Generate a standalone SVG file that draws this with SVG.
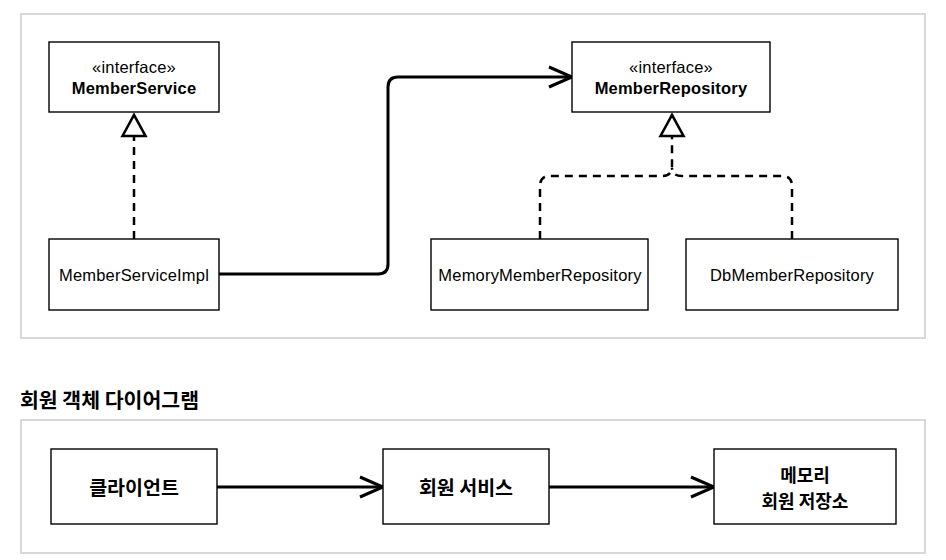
<svg xmlns="http://www.w3.org/2000/svg" width="946" height="560" viewBox="0 0 946 560">
<style>
.frame{fill:none;stroke:#d8d8d8;stroke-width:2}
.box{fill:#fff;stroke:#000;stroke-width:1.4}
.en{font-family:"Liberation Sans",Arial,sans-serif;font-size:16.5px;letter-spacing:0.2px;fill:#000;text-anchor:middle}
.b{font-weight:bold}
.ko{font-family:"Noto Sans CJK KR",sans-serif;font-weight:700;font-size:19.5px;fill:#000;text-anchor:middle}
.ko2{font-size:18px}
.solid{fill:none;stroke:#000;stroke-width:3}
.dash{fill:none;stroke:#000;stroke-width:2.5;stroke-dasharray:8 6}
</style>
<defs>
<marker id="open" markerUnits="userSpaceOnUse" viewBox="0 0 27 24" refX="25" refY="12" markerWidth="27" markerHeight="24" orient="auto">
<path d="M2,2 L25,12 L2,22" fill="none" stroke="#000" stroke-width="3" stroke-linejoin="miter"/>
</marker>
<marker id="tri" markerUnits="userSpaceOnUse" viewBox="-2 -14 26 28" refX="0" refY="0" markerWidth="26" markerHeight="28" orient="auto">
<path d="M0,-11.5 L21,0 L0,11.5 Z" fill="#fff" stroke="#000" stroke-width="2.6"/>
</marker>
</defs>
<rect x="0" y="0" width="946" height="560" fill="#fff"/>
<rect class="frame" x="21" y="14" width="904" height="324"/>
<rect class="frame" x="21" y="420" width="904" height="133"/>
<text x="20" y="408" font-family="Noto Sans CJK KR, sans-serif" font-weight="700" font-size="20.5" fill="#000">회원 객체 다이어그램</text>
<g id="connectors">
<path class="solid" d="M219,274 H378 Q388,274 388,264 V87 Q388,77 398,77 H572" marker-end="url(#open)"/>
<path class="dash" d="M134,239 V136" marker-end="url(#tri)"/>
<path class="dash" d="M540,239 V186 Q540,176 550,176 H662 Q672,176 672,166 V136" marker-end="url(#tri)"/>
<path class="dash" d="M792,239 V186 Q792,176 782,176 H682 Q672,176 672,168"/>
<path class="solid" d="M217,487 H383" marker-end="url(#open)"/>
<path class="solid" d="M549,487 H714" marker-end="url(#open)"/>
</g>
<g id="MemberService">
<rect class="box" x="49" y="42" width="170" height="70"/>
<text class="en" x="134" y="73">«interface»</text>
<text class="en b" x="134" y="94">MemberService</text>
</g>
<g id="MemberServiceImpl">
<rect class="box" x="49" y="239" width="170" height="71"/>
<text class="en" x="134" y="281">MemberServiceImpl</text>
</g>
<g id="MemberRepository">
<rect class="box" x="572" y="42" width="198" height="70"/>
<text class="en" x="671" y="73">«interface»</text>
<text class="en b" x="671" y="94">MemberRepository</text>
</g>
<g id="MemoryMemberRepository">
<rect class="box" x="431" y="239" width="217" height="71"/>
<text class="en" x="540" y="281">MemoryMemberRepository</text>
</g>
<g id="DbMemberRepository">
<rect class="box" x="686" y="239" width="212" height="71"/>
<text class="en" x="792" y="281">DbMemberRepository</text>
</g>
<g id="client">
<rect class="box" x="51" y="449" width="166" height="75"/>
<text class="ko" x="134" y="495">클라이언트</text>
</g>
<g id="memberService">
<rect class="box" x="383" y="449" width="166" height="75"/>
<text class="ko" x="466" y="495">회원 서비스</text>
</g>
<g id="memoryStore">
<rect class="box" x="714" y="449" width="182" height="75"/>
<text class="ko ko2" x="805" y="481.5">메모리</text>
<text class="ko ko2" x="805" y="507.8">회원 저장소</text>
</g>
</svg>
